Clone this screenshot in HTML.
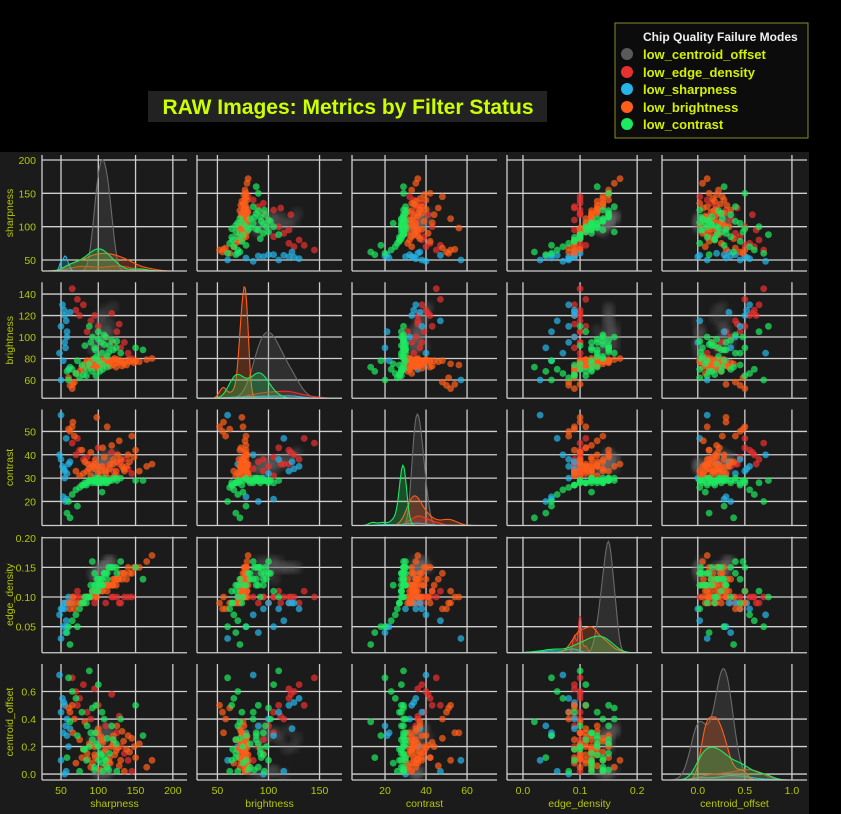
<!DOCTYPE html>
<html><head><meta charset="utf-8"><style>
html,body{margin:0;padding:0;background:#000;}
svg{display:block;font-family:"Liberation Sans",sans-serif;}
</style></head><body>
<svg id="fig" width="841" height="814" viewBox="0 0 841 814" xmlns="http://www.w3.org/2000/svg">
<rect x="0" y="0" width="841" height="814" fill="#000"/>
<rect x="0" y="152" width="809" height="662" fill="#1b1b1b"/>
<g>
<rect x="148" y="91" width="399" height="31" fill="#222"/>
<text x="348" y="114" text-anchor="middle" font-size="21" font-weight="bold" fill="#ccff00">RAW Images: Metrics by Filter Status</text>
</g>
<g>
<rect x="615" y="23" width="193" height="115" fill="#0c0c0c" stroke="#8c8c2a" stroke-width="1"/>
<text x="643" y="41" font-size="12" font-weight="bold" fill="#f0f0f0">Chip Quality Failure Modes</text>
<g><circle cx="627" cy="54" r="6" fill="#5a5a5a"/><text x="643" y="59" font-size="13" font-weight="bold" fill="#d4f000">low_centroid_offset</text></g>
<g><circle cx="627" cy="72" r="6" fill="#e8302f"/><text x="643" y="77" font-size="13" font-weight="bold" fill="#d4f000">low_edge_density</text></g>
<g><circle cx="627" cy="89" r="6" fill="#27b4e6"/><text x="643" y="94" font-size="13" font-weight="bold" fill="#d4f000">low_sharpness</text></g>
<g><circle cx="627" cy="107" r="6" fill="#ff5e1a"/><text x="643" y="112" font-size="13" font-weight="bold" fill="#d4f000">low_brightness</text></g>
<g><circle cx="627" cy="124" r="6" fill="#1ee860"/><text x="643" y="129" font-size="13" font-weight="bold" fill="#d4f000">low_contrast</text></g>
</g>
<defs><filter id="blur"><feGaussianBlur stdDeviation="2.5"/></filter></defs>
<g id="panels"></g>
</svg>
<script>
// ---- data ----
const varNames = ['sharpness','brightness','contrast','edge_density','centroid_offset'];
const classNames = ['low_centroid_offset','low_edge_density','low_sharpness','low_brightness','low_contrast'];
const classColors = ['#6a6a6a','#e8302f','#27b4e6','#ff5e1a','#1ee860'];
const classWeights = [1.0, 0.15, 0.06, 0.5, 0.42];
const classBandwidth = [1.5, 1.0, 0.8, 1.0, 1.0];
// rows: [sharpness, brightness, contrast, edge_density, centroid_offset]
const grayRows = [[100,95,35,0.14,0.0],[105,100,36,0.15,0.28],[110,105,37,0.15,0.02],[92,90,34,0.14,0.25],[118,110,38,0.16,0.30],[112,115,36,0.15,0.0],[103,98,35,0.14,0.26],[106,120,39,0.15,0.32],[96,88,33,0.13,0.22],[115,102,37,0.16,0.03],[95,94,34,0.14,0.30],[109,125,40,0.15,0.20],[104,85,35,0.14,0.01],[107,108,36,0.15,0.27],[111,96,38,0.16,0.35],[102,112,37,0.15,0.24],[99,100,36,0.14,0.29],[108,92,35,0.15,0.0],[113,104,34,0.16,0.31],[101,118,38,0.15,0.18],[120,128,41,0.15,0.26],[98,106,33,0.13,0.02],[116,90,39,0.16,0.33]];
const redRows = [[70,125,40,0.10,0.60],[75,120,42,0.10,0.55],[80,130,38,0.09,0.65],[65,145,45,0.10,0.70],[90,115,36,0.10,0.40],[110,100,35,0.09,0.35],[120,95,33,0.10,0.25],[130,90,37,0.09,0.20],[140,85,34,0.10,0.10],[145,80,32,0.10,0.02],[100,110,43,0.11,0.50],[85,105,39,0.10,0.45],[95,120,36,0.09,0.62],[125,105,31,0.10,0.30],[135,95,38,0.10,0.15],[72,135,47,0.11,0.50],[118,122,41,0.10,0.58],[128,112,36,0.09,0.42]];
const blueRows = [[52,130,35,0.08,0.55],[55,120,33,0.09,0.50],[50,110,38,0.08,0.45],[58,100,32,0.09,0.40],[48,85,40,0.07,0.72],[53,78,22,0.05,0.30],[56,90,20,0.04,0.35],[60,70,36,0.10,0.20],[50,60,57,0.03,0.10],[54,125,34,0.09,0.52],[57,115,47,0.06,0.02],[55,95,30,0.08,0.00],[62,123,37,0.09,0.33],[58,105,21,0.05,0.28]];
const orangeRows = [[85,78,33,0.10,0.15],[95,76,34,0.11,0.20],[105,78,35,0.12,0.25],[110,77,33,0.12,0.18],[120,79,36,0.13,0.22],[130,78,38,0.14,0.10],[140,79,40,0.15,0.28],[150,78,42,0.15,0.12],[165,79,35,0.16,0.05],[172,80,36,0.17,0.10],[100,74,32,0.11,0.30],[90,72,31,0.10,0.05],[115,75,34,0.12,0.12],[125,76,37,0.13,0.35],[135,77,33,0.14,0.02],[80,70,32,0.09,0.18],[75,68,31,0.09,0.25],[70,66,33,0.09,0.08],[95,73,36,0.11,0.14],[108,76,39,0.12,0.16],[118,78,44,0.12,0.20],[145,78,48,0.14,0.26],[128,77,46,0.13,0.06],[112,75,52,0.11,0.10],[98,74,56,0.10,0.30],[88,73,34,0.10,0.22],[102,77,30,0.12,0.03],[122,80,31,0.13,0.14],[82,75,37,0.10,0.38],[92,79,35,0.11,0.08],[62,55,50,0.08,0.45],[65,52,52,0.09,0.50],[68,58,48,0.08,0.40],[60,62,51,0.09,0.48],[66,56,54,0.10,0.30],[78,72,42,0.09,0.12],[138,74,35,0.13,0.18],[155,77,33,0.15,0.22],[96,71,38,0.10,0.12],[104,79,33,0.11,0.27],[116,73,36,0.12,0.08],[126,79,40,0.13,0.19],[134,75,34,0.14,0.24],[142,77,37,0.14,0.16],[90,77,41,0.10,0.21],[100,72,35,0.11,0.33],[110,80,32,0.12,0.06],[120,74,38,0.12,0.28],[86,76,36,0.10,0.11],[124,72,33,0.12,0.17],[148,76,39,0.15,0.20],[106,73,43,0.11,0.23],[114,78,30,0.12,0.09],[132,73,35,0.13,0.31]];
const greenRows = [[90,95,29,0.12,0.30],[100,98,29,0.13,0.20],[110,100,28,0.14,0.10],[95,90,29,0.12,0.05],[105,85,28,0.13,0.45],[115,92,29,0.15,0.15],[120,88,30,0.15,0.25],[85,70,28,0.10,0.35],[80,65,27,0.09,0.18],[75,62,26,0.08,0.02],[70,66,25,0.07,0.55],[65,70,23,0.06,0.60],[60,60,20,0.05,0.70],[58,68,15,0.04,0.12],[62,72,13,0.02,0.38],[95,80,29,0.14,0.03],[130,85,30,0.16,0.40],[150,90,29,0.15,0.50],[100,105,28,0.11,0.65],[88,110,29,0.10,0.75],[105,75,24,0.12,0.08],[72,78,18,0.05,0.28],[125,96,29,0.14,0.02],[98,82,29,0.13,0.22],[108,93,30,0.14,0.12],[160,88,29,0.13,0.28],[92,100,29,0.16,0.48],[102,68,28,0.12,0.15],[112,72,29,0.13,0.26],[84,64,27,0.09,0.10],[88,75,29,0.10,0.20],[96,88,30,0.12,0.30],[104,95,29,0.13,0.14],[112,82,28,0.14,0.05],[118,97,29,0.15,0.35],[92,68,28,0.11,0.25],[100,78,30,0.12,0.10],[108,102,29,0.14,0.40],[82,92,28,0.10,0.18],[114,86,29,0.15,0.03],[78,74,27,0.09,0.45],[124,90,30,0.15,0.22],[97,64,28,0.11,0.50],[106,70,29,0.12,0.02]];
const classRows = [grayRows, redRows, blueRows, orangeRows, greenRows];
// axis ticks and labels
const tickValues = [[50,100,150,200],[60,80,100,120,140],[20,30,40,50],[0.05,0.10,0.15,0.20],[0.0,0.2,0.4,0.6]];
const tickLabels = [['50','100','150','200'],['60','80','100','120','140'],['20','30','40','50'],['0.05','0.10','0.15','0.20'],['0.0','0.2','0.4','0.6']];
const xTickValues = [[50,100,150,200],[50,100,150],[20,40,60],[0.0,0.1,0.2],[0.0,0.5,1.0]];
const xTickLabels = [['50','100','150','200'],['50','100','150'],['20','40','60'],['0.0','0.1','0.2'],['0.0','0.5','1.0']];
const xDomains = [[24.5,219],[30,172],[3.9,74.6],[-0.028,0.226],[-0.38,1.16]];
const yDomains = [[33.5,207.5],[43,151],[9.7,59.4],[0.006,0.2017],[-0.043,0.80]];

// ---- layout ----
const NS='http://www.w3.org/2000/svg';
const W=145, H=116;
const colX = i => 42 + i*155;
const rowY = j => 155 + j*127.25;
const xS = (i,v) => colX(i) + (v - xDomains[i][0])/(xDomains[i][1]-xDomains[i][0])*W;
const yS = (j,v) => rowY(j) + H - (v - yDomains[j][0])/(yDomains[j][1]-yDomains[j][0])*H;
const root=document.getElementById('panels');
const defs=document.querySelector('defs');
function mk(tag,attrs,parent){const e=document.createElementNS(NS,tag);for(const k in attrs)e.setAttribute(k,attrs[k]);(parent||root).appendChild(e);return e;}
const tickCol='#b5c800', gridCol='#cfcfcf';

function kde(vals, x, f){
  const n=vals.length; const m=vals.reduce((a,b)=>a+b,0)/n;
  const sd=Math.sqrt(vals.reduce((a,b)=>a+(b-m)*(b-m),0)/n)||1e-6;
  const bw=1.06*sd*Math.pow(n,-0.2)*0.8*f;
  let s=0; for(const v of vals){const z=(x-v)/bw;s+=Math.exp(-0.5*z*z);}
  return s/(n*bw*Math.sqrt(2*Math.PI));
}

for(let j=0;j<5;j++){
  for(let i=0;i<5;i++){
    const g=mk('g',{});
    
    
    const cp=mk('clipPath',{id:'c'+j+'_'+i},defs);
    mk('rect',{x:colX(i),y:rowY(j),width:W,height:H},cp);
    for(const t of xTickValues[i]){const x=xS(i,t);const l=mk('line',{x1:x,x2:x,y1:rowY(j),y2:rowY(j)+H,stroke:gridCol,'stroke-width':1.3},g);}
    for(const t of tickValues[j]){const y=yS(j,t);const l=mk('line',{x1:colX(i),x2:colX(i)+W,y1:y,y2:y,stroke:gridCol,'stroke-width':1.3},g);}
    const marks=mk('g',{'clip-path':'url(#c'+j+'_'+i+')'},g);
    if(i===j){
      const N=120; const curves=[]; let mx=0;
      for(let c=0;c<5;c++){const vals=classRows[c].map(r=>r[i]);const pts=[];
        for(let k=0;k<=N;k++){const xv=xDomains[i][0]+(xDomains[i][1]-xDomains[i][0])*k/N;const d=classWeights[c]*kde(vals,xv,classBandwidth[c]);pts.push([xv,d]);if(d>mx)mx=d;}
        curves.push(pts);}
      const base=rowY(j)+H;
      for(let c=0;c<5;c++){
        let d='M'+xS(i,curves[c][0][0])+','+base;
        for(const p of curves[c]) d+=' L'+xS(i,p[0]).toFixed(1)+','+(base-p[1]/mx*H*0.96).toFixed(1);
        d+=' L'+xS(i,curves[c][N][0])+','+base+' Z';
        const p=mk('path',{d:d,fill:classColors[c],'fill-opacity':0.25,stroke:classColors[c],'stroke-width':1.1},marks);
        
        
      }
    } else {
      for(let c=0;c<5;c++){
        for(const r of classRows[c]){
          const gray=c===0;
          const dot=mk('circle',{cx:xS(i,r[i]).toFixed(1),cy:yS(j,r[j]).toFixed(1),r:gray?6:3.4,fill:classColors[c],'fill-opacity':gray?0.22:0.72},marks);
          if(gray) dot.setAttribute('filter','url(#blur)');
          
          
        }
      }
    }
    mk('line',{x1:colX(i),x2:colX(i),y1:rowY(j),y2:rowY(j)+H,stroke:gridCol,'stroke-width':1.3},g);
    mk('line',{x1:colX(i),x2:colX(i)+W,y1:rowY(j)+H,y2:rowY(j)+H,stroke:gridCol,'stroke-width':1.3},g);
  }
  tickValues[j].forEach((t,k)=>{const tx=mk('text',{x:36,y:yS(j,t)+4,'text-anchor':'end','font-size':10.5,fill:tickCol});tx.textContent=tickLabels[j][k];});
  const cy=rowY(j)+H/2;
  const yt=mk('text',{x:0,y:0,transform:'translate(13,'+cy+') rotate(-90)','text-anchor':'middle','font-size':10.5,fill:tickCol});
  yt.textContent=varNames[j];
  
  
}
for(let i=0;i<5;i++){
  xTickValues[i].forEach((t,k)=>{const tx=mk('text',{x:xS(i,t),y:794,'text-anchor':'middle','font-size':10.5,fill:tickCol});tx.textContent=xTickLabels[i][k];});
  const xt=mk('text',{x:colX(i)+W/2,y:807,'text-anchor':'middle','font-size':10.5,fill:tickCol});
  xt.textContent=varNames[i];
  
  
}
</script>
</body></html>
